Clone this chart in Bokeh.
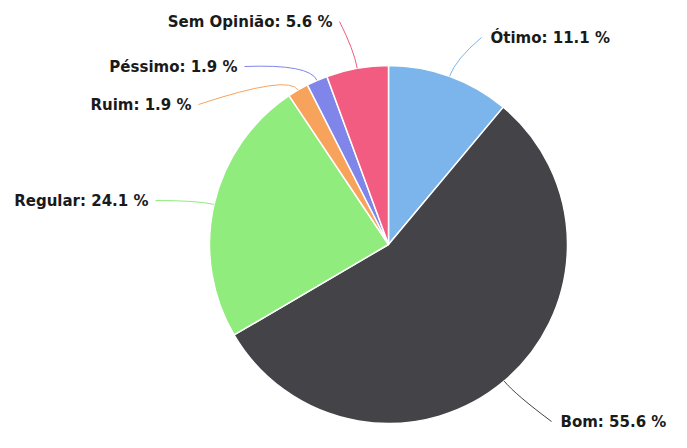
import math
from bokeh.plotting import figure
from bokeh.models import Range1d, ColumnDataSource
from bokeh.core.properties import value
from bokeh.embed import file_html
from bokeh.resources import INLINE

# ---- data ----
categories = ["Ótimo", "Bom", "Regular", "Ruim", "Péssimo", "Sem Opinião"]
percents = [11.1, 55.6, 24.1, 1.9, 1.9, 5.6]
colors = ["#7cb5ec", "#434348", "#90ed7d", "#f7a35c", "#8085e9", "#f15c80"]

# ---- layout ----
W, H = 671, 432
CX, CY_FIG, R = 388, 244, 179
CY = H - CY_FIG
# label anchors in figure pixel coords (x, y_from_top, side)
label_layout = [
    (490, 37, "left"),
    (560, 421, "left"),
    (148, 200, "right"),
    (191, 104, "right"),
    (237, 66, "right"),
    (332, 21, "right"),
]

total = sum(percents)
starts, ends, mids = [], [], []
cum = 0.0
for v in percents:
    f0 = cum / total
    cum += v
    f1 = cum / total
    a0 = math.pi / 2 - 2 * math.pi * f0
    a1 = math.pi / 2 - 2 * math.pi * f1
    starts.append(a1)
    ends.append(a0)
    mids.append((a0 + a1) / 2)

p = figure(width=W, height=H, output_backend="svg", toolbar_location=None,
           x_range=Range1d(0, W), y_range=Range1d(0, H),
           min_border=0, outline_line_color=None)
p.axis.visible = False
p.grid.visible = False
p.background_fill_color = "white"
p.border_fill_color = "white"

src = ColumnDataSource(dict(start=starts, end=ends, color=colors))
p.wedge(x=CX, y=CY, radius=R, start_angle="start", end_angle="end",
        fill_color="color", line_color="white", line_width=1.5, source=src)

lx, ly, lt, la = [], [], [], []
for i, (cat, v) in enumerate(zip(categories, percents)):
    x, yf, side = label_layout[i]
    y = H - yf
    m = mids[i]
    ex, ey = CX + R * math.cos(m), CY + R * math.sin(m)
    bx, by = CX + (R + 18) * math.cos(m), CY + (R + 18) * math.sin(m)
    if side == "left":
        sx = x - 9
        align = "left"
    else:
        sx = x + 7
        align = "right"
    p.quadratic(x0=[sx], y0=[y], x1=[ex], y1=[ey], cx=[bx], cy=[by],
                line_color=colors[i], line_width=1)
    lx.append(x)
    ly.append(y)
    lt.append(f"{cat}: {v} %")
    la.append(align)

p.text(x=lx, y=ly, text=lt, text_align=la, text_baseline="middle",
       text_font=value("DejaVu Sans"), text_font_style="bold",
       text_font_size="15px", text_color="#1a1a1a")

open("out.html", "w").write(file_html(p, INLINE))
